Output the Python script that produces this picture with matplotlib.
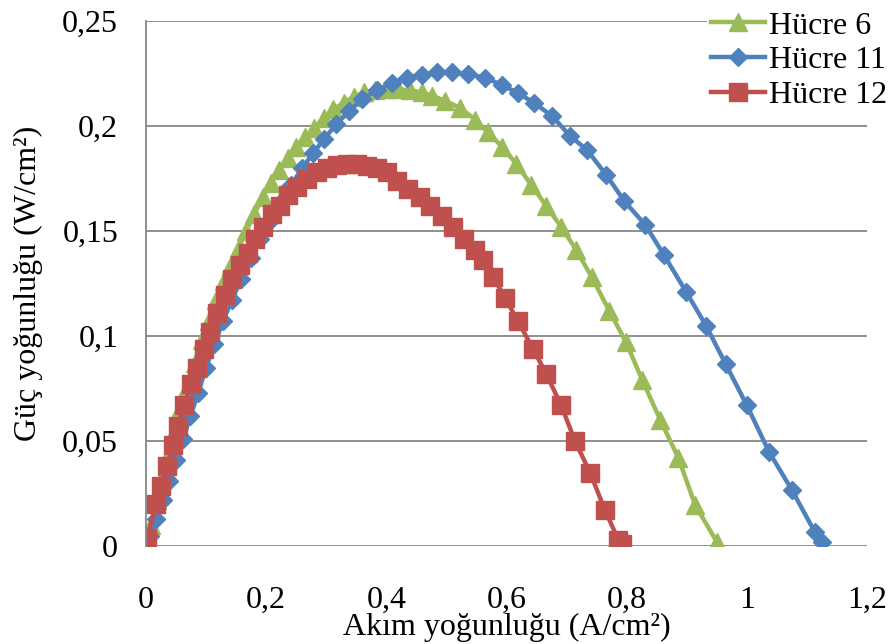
import matplotlib
matplotlib.use("Agg")
import matplotlib.pyplot as plt
from matplotlib.ticker import FixedLocator

plt.rcParams['font.family'] = ['Liberation Serif', 'DejaVu Serif']

# Hücre 6 (green triangles)
x_h6 = [0.0, 0.008, 0.018, 0.028, 0.038, 0.049, 0.059, 0.070, 0.081, 0.093,
        0.105, 0.117, 0.129, 0.141, 0.154, 0.167, 0.180, 0.194, 0.208, 0.222,
        0.236, 0.250, 0.265, 0.280, 0.296, 0.312, 0.329, 0.346, 0.363, 0.381,
        0.400, 0.420, 0.440, 0.459, 0.476, 0.498, 0.523, 0.548, 0.569, 0.593,
        0.616, 0.641, 0.666, 0.691, 0.716, 0.742, 0.771, 0.799, 0.826, 0.856,
        0.886, 0.914, 0.950]
y_h6 = [0.0, 0.010, 0.022, 0.033, 0.044, 0.055, 0.066, 0.076, 0.087, 0.098,
        0.107, 0.117, 0.126, 0.134, 0.142, 0.150, 0.158, 0.166, 0.173, 0.179,
        0.185, 0.190, 0.195, 0.199, 0.204, 0.208, 0.211, 0.214, 0.216, 0.217,
        0.2175, 0.2175, 0.217, 0.216, 0.2145, 0.212, 0.2086, 0.203, 0.197, 0.190,
        0.182, 0.172, 0.162, 0.152, 0.141, 0.128, 0.112, 0.097, 0.079, 0.060,
        0.042, 0.0195, 0.002]

# Hücre 11 (blue diamonds)
x_h11 = [0.0, 0.007, 0.017, 0.028, 0.039, 0.050, 0.062, 0.074, 0.087, 0.100,
         0.114, 0.128, 0.143, 0.158, 0.174, 0.190, 0.207, 0.224, 0.242, 0.260,
         0.278, 0.297, 0.317, 0.338, 0.360, 0.384, 0.409, 0.434, 0.459, 0.484,
         0.510, 0.536, 0.564, 0.593, 0.619, 0.646, 0.676, 0.706, 0.734, 0.766,
         0.796, 0.831, 0.862, 0.899, 0.932, 0.965, 1.000, 1.037, 1.075, 1.113,
         1.125]
y_h11 = [0.0, 0.005, 0.013, 0.022, 0.031, 0.041, 0.051, 0.062, 0.073, 0.085,
         0.096, 0.107, 0.117, 0.127, 0.137, 0.146, 0.155, 0.164, 0.172, 0.180,
         0.187, 0.194, 0.201, 0.207, 0.213, 0.217, 0.2205, 0.223, 0.2245, 0.2255,
         0.2257, 0.2247, 0.223, 0.2195, 0.2157, 0.211, 0.2047, 0.1952, 0.1886, 0.1767,
         0.1643, 0.1529, 0.1386, 0.121, 0.105, 0.0865, 0.067, 0.0448, 0.0267, 0.0067,
         0.002]

# Hücre 12 (red squares)
x_h12 = [0.0, 0.002, 0.017, 0.025, 0.035, 0.045, 0.053, 0.063, 0.075, 0.085,
         0.0965, 0.107, 0.118, 0.131, 0.143, 0.156, 0.170, 0.181, 0.195, 0.210,
         0.223, 0.236, 0.251, 0.268, 0.285, 0.301, 0.318, 0.335, 0.351, 0.368,
         0.384, 0.401, 0.418, 0.436, 0.456, 0.473, 0.493, 0.511, 0.530, 0.548,
         0.561, 0.578, 0.598, 0.619, 0.644, 0.666, 0.691, 0.714, 0.739, 0.764,
         0.786, 0.792]
y_h12 = [0.0, 0.004, 0.020, 0.0286, 0.038, 0.048, 0.057, 0.067, 0.077, 0.085,
         0.094, 0.102, 0.111, 0.1195, 0.127, 0.134, 0.1395, 0.146, 0.152, 0.158,
         0.162, 0.167, 0.171, 0.175, 0.178, 0.180, 0.1814, 0.182, 0.182, 0.181,
         0.180, 0.178, 0.174, 0.170, 0.166, 0.162, 0.157, 0.152, 0.146, 0.141,
         0.136, 0.128, 0.118, 0.107, 0.094, 0.082, 0.067, 0.050, 0.035, 0.017,
         0.003, 0.001]

x_ticks = [0, 0.2, 0.4, 0.6, 0.8, 1.0, 1.2]
x_tick_labels = ["0", "0,2", "0,4", "0,6", "0,8", "1", "1,2"]
y_ticks = [0, 0.05, 0.1, 0.15, 0.2, 0.25]
y_tick_labels = ["0", "0,05", "0,1", "0,15", "0,2", "0,25"]

fig = plt.figure(figsize=(8.9, 6.44), dpi=100)
ax = fig.add_axes([146 / 890, 1 - 546 / 644, (867 - 146) / 890, (546 - 21) / 644])

ax.plot(x_h6, y_h6, color='#9BBB59', lw=3.2, marker='^', ms=13, label='Hücre 6')
ax.plot(x_h11, y_h11, color='#4F81BD', lw=3.2, marker='D', ms=9.5, label='Hücre 11')
ax.plot(x_h12, y_h12, color='#C0504D', lw=3.2, marker='s', ms=13, label='Hücre 12')

ax.set_xlim(0, 1.2)
ax.set_ylim(0, 0.25)
ax.xaxis.set_major_locator(FixedLocator(x_ticks))
ax.set_xticklabels(x_tick_labels)
ax.yaxis.set_major_locator(FixedLocator(y_ticks))
ax.set_yticklabels(y_tick_labels)
ax.tick_params(axis='both', length=0, labelsize=23)
ax.tick_params(axis='x', pad=29)
ax.tick_params(axis='y', pad=20)

ax.grid(axis='y', color='#868686', lw=1.3)
ax.set_axisbelow(True)
for s in ['top', 'right', 'bottom']:
    ax.spines[s].set_visible(False)
ax.spines['left'].set_color('#868686')
ax.spines['left'].set_linewidth(1.3)

ax.set_xlabel('Akım yoğunluğu (A/cm²)', fontsize=23, labelpad=-2)
ax.set_ylabel('Güç yoğunluğu (W/cm²)', fontsize=23, labelpad=14)

# legend sits over the top-right corner, hiding the top gridline there
leg = fig.legend(loc='upper right', bbox_to_anchor=(1.009, 1.0), fontsize=23,
                 frameon=True, fancybox=False, framealpha=1, facecolor='white',
                 edgecolor='none', handlelength=1.7, handletextpad=0.12,
                 labelspacing=0.17, borderpad=0.1, borderaxespad=0.25)

fig.savefig('out.png', dpi=100)
